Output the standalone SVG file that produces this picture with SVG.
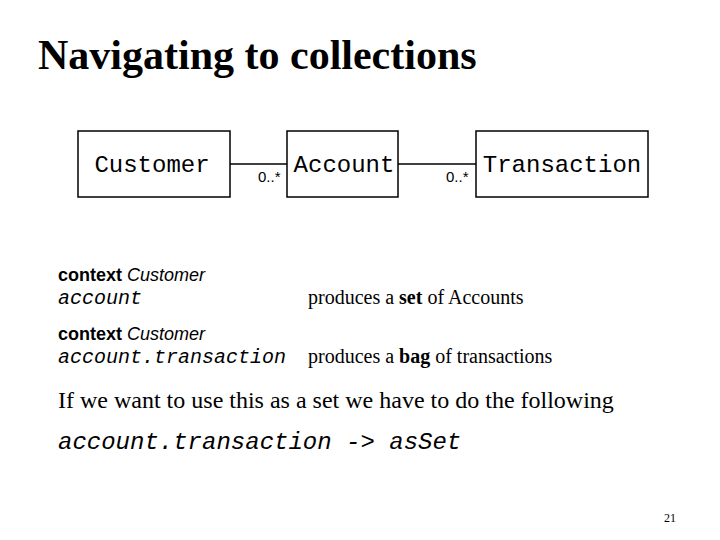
<svg xmlns="http://www.w3.org/2000/svg" width="720" height="540" viewBox="0 0 720 540">
<style>
.box{fill:#fff;stroke:#000;stroke-width:1.5}
.mono{font-family:"Liberation Mono",monospace}
.sans{font-family:"Liberation Sans",Arial,sans-serif}
.serif{font-family:"Liberation Serif",serif}
</style>
<rect width="720" height="540" fill="#fff"/>
<text x="38" y="69" class="serif" font-size="42" font-weight="bold">Navigating to collections</text>
<g id="connectors" stroke="#000" stroke-width="1.5">
<line x1="230" y1="164" x2="287" y2="164"/>
<line x1="398" y1="164" x2="476" y2="164"/>
</g>
<g id="customer"><rect class="box" x="78" y="131" width="152" height="66"/><text x="152" y="172" class="mono" font-size="24" text-anchor="middle">Customer</text></g>
<g id="account"><rect class="box" x="287" y="131" width="111" height="66"/><text x="344" y="172" class="mono" font-size="24" text-anchor="middle">Account</text></g>
<g id="transaction"><rect class="box" x="476" y="131" width="172" height="66"/><text x="562" y="172" class="mono" font-size="24" text-anchor="middle">Transaction</text></g>
<text x="258" y="182" class="sans" font-size="15">0..*</text>
<text x="446" y="182" class="sans" font-size="15">0..*</text>
<text x="58" y="281" class="sans" font-size="18"><tspan font-weight="bold">context</tspan> <tspan font-style="italic">Customer</tspan></text>
<text x="58" y="304" class="mono" font-size="20" font-style="italic">account</text>
<text x="308" y="304" class="serif" font-size="20">produces a <tspan font-weight="bold">set</tspan> of Accounts</text>
<text x="58" y="340" class="sans" font-size="18"><tspan font-weight="bold">context</tspan> <tspan font-style="italic">Customer</tspan></text>
<text x="58" y="363" class="mono" font-size="20" font-style="italic">account.transaction</text>
<text x="308" y="363" class="serif" font-size="20">produces a <tspan font-weight="bold">bag</tspan> of transactions</text>
<text x="58" y="408" class="serif" font-size="24">If we want to use this as a set we have to do the following</text>
<text x="58" y="449" class="mono" font-size="24" font-style="italic">account.transaction -&gt; asSet</text>
<text x="670" y="522" class="serif" font-size="12" text-anchor="middle">21</text>
</svg>
